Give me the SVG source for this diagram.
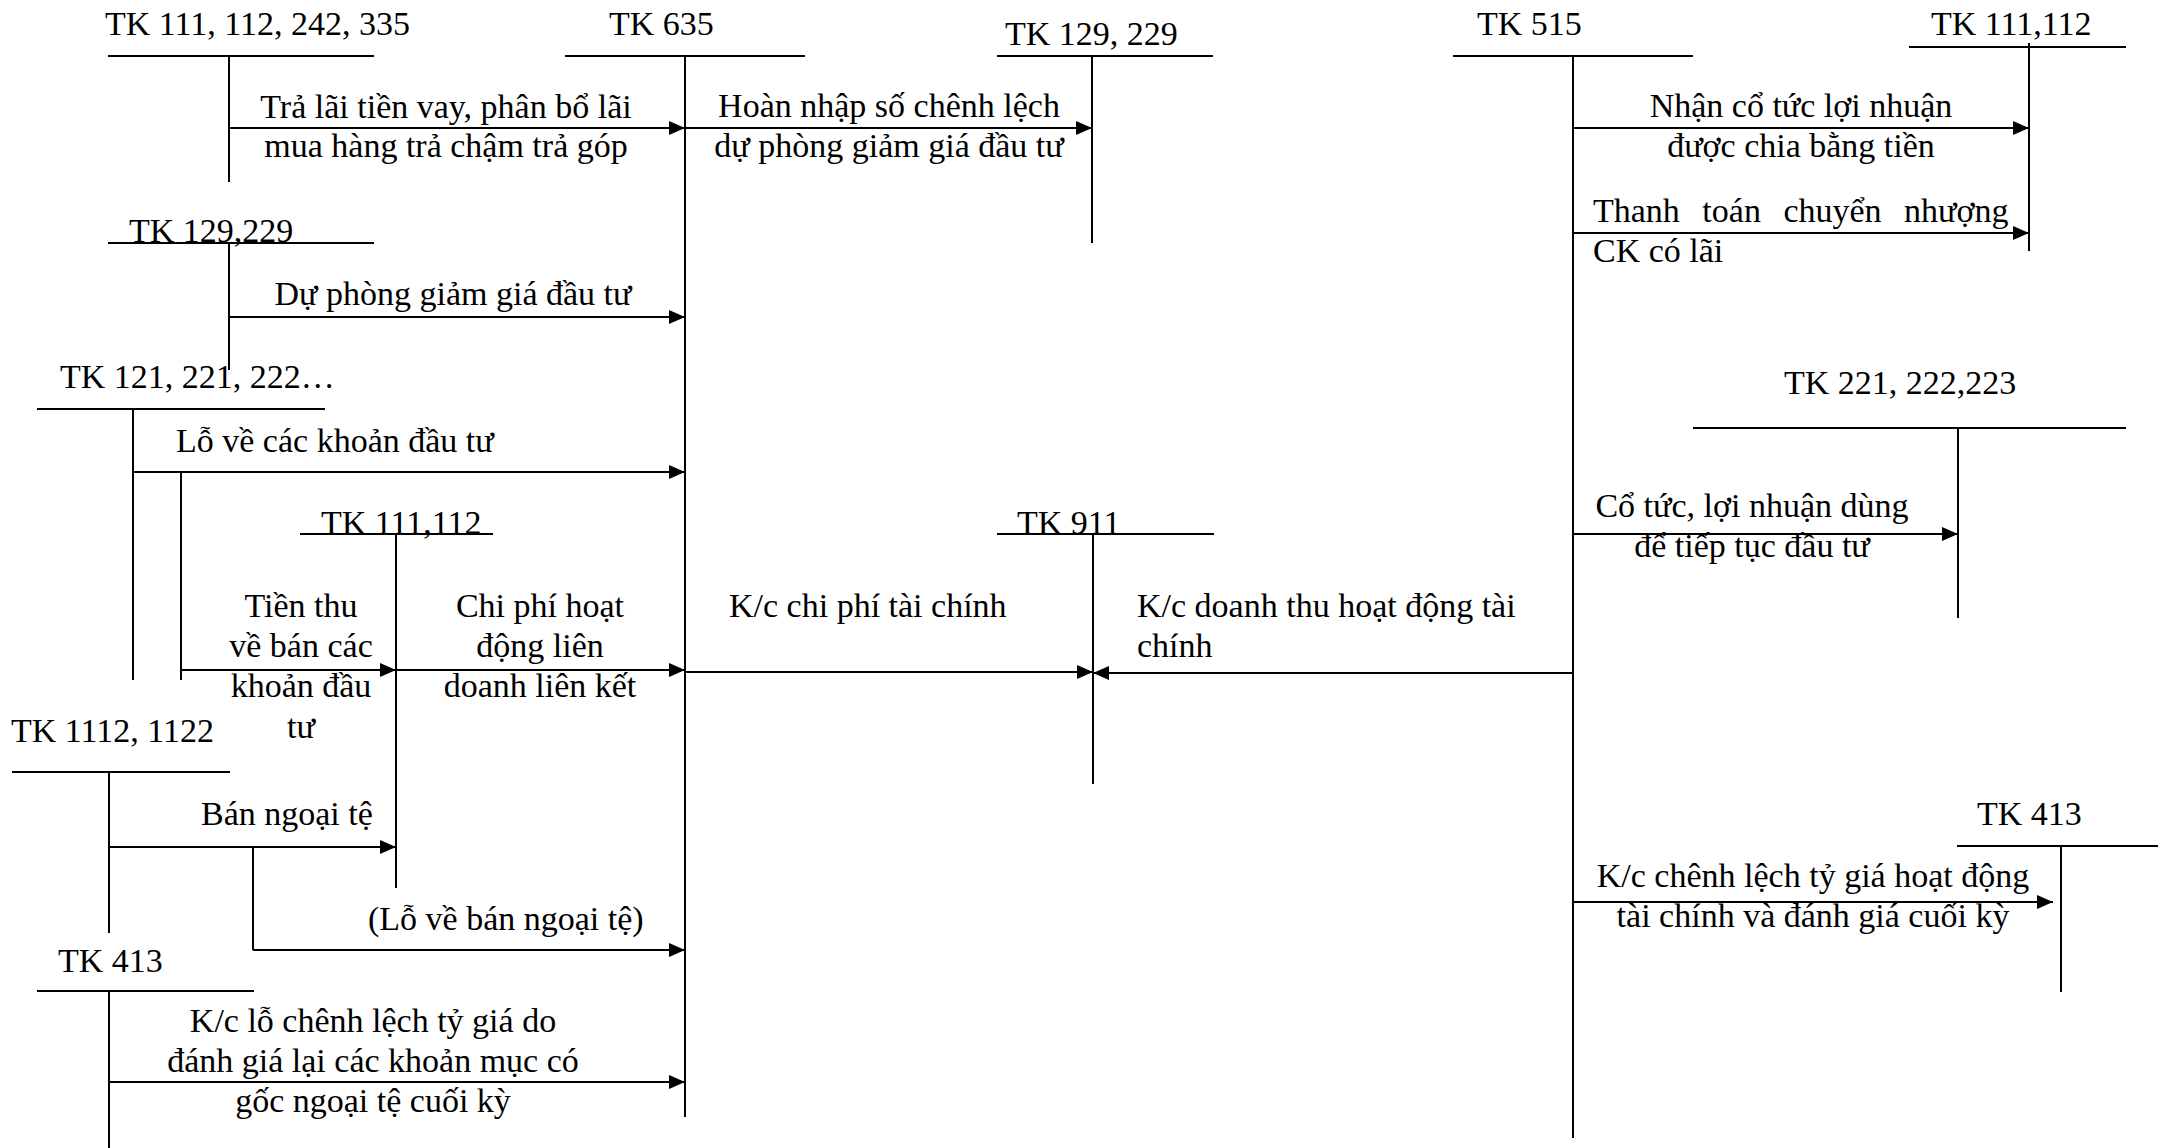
<svg xmlns="http://www.w3.org/2000/svg" width="2158" height="1148" viewBox="0 0 2158 1148">
<style>
text{font-family:"Liberation Serif","Times New Roman",serif;font-size:34px;fill:#000}
.c{text-anchor:middle}
.t{stroke:#000;stroke-width:2;fill:none}
.a{stroke:#000;stroke-width:2.2;fill:none;marker-end:url(#ah)}
</style>
<defs>
<marker id="ah" markerUnits="userSpaceOnUse" markerWidth="17" markerHeight="14" refX="16" refY="7" orient="auto" overflow="visible">
<path d="M0,0 L16,7 L0,14 z" fill="#000"/>
</marker>
</defs>
<rect width="2158" height="1148" fill="#fff"/>

<g id="tk111-112-242-335">
<text x="105" y="35">TK 111, 112, 242, 335</text>
<line class="t" x1="108" y1="56" x2="374" y2="56"/>
<line class="t" x1="229" y1="56" x2="229" y2="182"/>
</g>
<g id="tk635">
<text x="609" y="35">TK 635</text>
<line class="t" x1="565" y1="56" x2="805" y2="56"/>
<line class="t" x1="685" y1="56" x2="685" y2="1117"/>
</g>
<g id="tk129-229-top">
<text x="1005" y="45">TK 129, 229</text>
<line class="t" x1="997" y1="56" x2="1213" y2="56"/>
<line class="t" x1="1092" y1="56" x2="1092" y2="243"/>
</g>
<g id="tk515">
<text x="1477" y="35">TK 515</text>
<line class="t" x1="1453" y1="56" x2="1693" y2="56"/>
<line class="t" x1="1573" y1="56" x2="1573" y2="1138"/>
</g>
<g id="tk111-112-right">
<text x="1931" y="35">TK 111,112</text>
<line class="t" x1="1909" y1="47" x2="2126" y2="47"/>
<line class="t" x1="2029" y1="43" x2="2029" y2="251"/>
</g>
<g id="tk129-229-left">
<text x="129" y="242">TK 129,229</text>
<line class="t" x1="108" y1="243" x2="374" y2="243"/>
<line class="t" x1="229" y1="243" x2="229" y2="370"/>
</g>
<g id="tk121-221-222">
<text x="60" y="388">TK 121, 221, 222…</text>
<line class="t" x1="37" y1="409" x2="325" y2="409"/>
<line class="t" x1="133" y1="409" x2="133" y2="680"/>
</g>
<g id="tk111-112-mid">
<text x="321" y="534">TK 111,112</text>
<line class="t" x1="300" y1="534" x2="493" y2="534"/>
<line class="t" x1="396" y1="534" x2="396" y2="888"/>
</g>
<g id="tk911">
<text x="1017" y="534">TK 911</text>
<line class="t" x1="997" y1="534" x2="1214" y2="534"/>
<line class="t" x1="1093" y1="534" x2="1093" y2="784"/>
</g>
<g id="tk221-222-223">
<text x="1784" y="394">TK 221, 222,223</text>
<line class="t" x1="1693" y1="428" x2="2126" y2="428"/>
<line class="t" x1="1958" y1="428" x2="1958" y2="618"/>
</g>
<g id="tk1112-1122">
<text x="11" y="742">TK 1112, 1122</text>
<line class="t" x1="12" y1="772" x2="230" y2="772"/>
<line class="t" x1="109" y1="772" x2="109" y2="933"/>
</g>
<g id="tk413-left">
<text x="58" y="972">TK 413</text>
<line class="t" x1="37" y1="991" x2="254" y2="991"/>
<line class="t" x1="109" y1="991" x2="109" y2="1148"/>
</g>
<g id="tk413-right">
<text x="1977" y="825">TK 413</text>
<line class="t" x1="1957" y1="846" x2="2158" y2="846"/>
<line class="t" x1="2061" y1="846" x2="2061" y2="992"/>
</g>

<g id="connectors">
<line class="a" x1="229" y1="128" x2="685" y2="128"/>
<line class="a" x1="685" y1="128" x2="1092" y2="128"/>
<line class="a" x1="229" y1="317" x2="685" y2="317"/>
<line class="a" x1="133" y1="472" x2="685" y2="472"/>
<line class="t" x1="181" y1="472" x2="181" y2="680"/>
<line class="a" x1="181" y1="670" x2="396" y2="670"/>
<line class="a" x1="396" y1="670" x2="685" y2="670"/>
<line class="a" x1="685" y1="672" x2="1093" y2="672"/>
<line class="a" x1="1573" y1="673" x2="1093" y2="673"/>
<line class="a" x1="109" y1="847" x2="396" y2="847"/>
<line class="t" x1="253" y1="847" x2="253" y2="950"/>
<line class="a" x1="253" y1="950" x2="685" y2="950"/>
<line class="a" x1="109" y1="1082" x2="685" y2="1082"/>
<line class="a" x1="1573" y1="128" x2="2029" y2="128"/>
<line class="a" x1="1573" y1="233" x2="2029" y2="233"/>
<line class="a" x1="1573" y1="534" x2="1958" y2="534"/>
<line class="a" x1="1573" y1="902" x2="2053" y2="902"/>

<text class="c" x="446" y="118">Trả lãi tiền vay, phân bổ lãi</text>
<text class="c" x="446" y="157">mua hàng trả chậm trả góp</text>
<text class="c" x="889" y="117">Hoàn nhập số chênh lệch</text>
<text class="c" x="889" y="157">dự phòng giảm giá đầu tư</text>
<text class="c" x="453" y="305">Dự phòng giảm giá đầu tư</text>
<text x="176" y="452">Lỗ về các khoản đầu tư</text>
<text class="c" x="301" y="617">Tiền thu</text>
<text class="c" x="301" y="657">về bán các</text>
<text class="c" x="301" y="697">khoản đầu</text>
<text class="c" x="301" y="738">tư</text>
<text class="c" x="540" y="617">Chi phí hoạt</text>
<text class="c" x="540" y="657">động liên</text>
<text class="c" x="540" y="697">doanh liên kết</text>
<text x="729" y="617">K/c chi phí tài chính</text>
<text x="1137" y="617">K/c doanh thu hoạt động tài</text>
<text x="1137" y="657">chính</text>
<text x="201" y="825">Bán ngoại tệ</text>
<text x="368" y="930">(Lỗ về bán ngoại tệ)</text>
<text class="c" x="373" y="1032">K/c lỗ chênh lệch tỷ giá do</text>
<text class="c" x="373" y="1072">đánh giá lại các khoản mục có</text>
<text class="c" x="373" y="1112">gốc ngoại tệ cuối kỳ</text>
<text class="c" x="1801" y="117">Nhận cổ tức lợi nhuận</text>
<text class="c" x="1801" y="157">được chia bằng tiền</text>
<text x="1593" y="222" word-spacing="14">Thanh toán chuyển nhượng</text>
<text x="1593" y="262">CK có lãi</text>
<text class="c" x="1752" y="517">Cổ tức, lợi nhuận dùng</text>
<text class="c" x="1752" y="557">để tiếp tục đầu tư</text>
<text class="c" x="1813" y="887">K/c chênh lệch tỷ giá hoạt động</text>
<text class="c" x="1813" y="927">tài chính và đánh giá cuối kỳ</text>
</g>
</svg>
